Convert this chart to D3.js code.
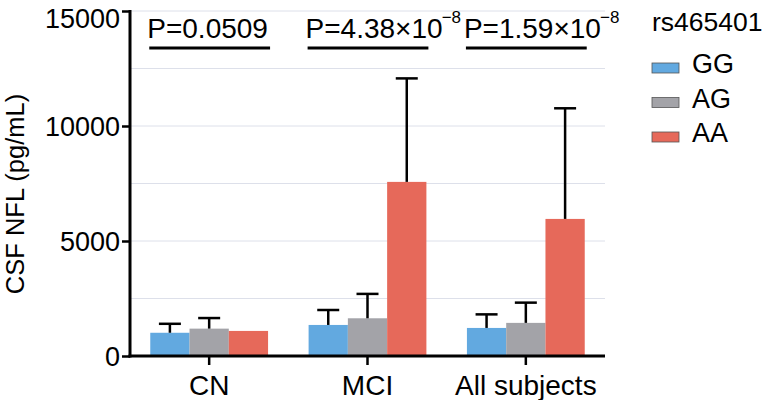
<!DOCTYPE html>
<html>
<head>
<meta charset="utf-8">
<script src="https://cdn.jsdelivr.net/npm/d3@7"></script>
<style>
  html, body { margin: 0; padding: 0; background: #fff; }
  svg { display: block; font-family: "Liberation Sans", Arial, Helvetica, sans-serif; }
</style>
</head>
<body>
<svg id="chart" width="768" height="400"></svg>
<script>
// ---- data ----
const groups = ["CN", "MCI", "All subjects"];
const genotypes = ["GG", "AG", "AA"];
const means = {
  GG: [1010, 1350, 1220],
  AG: [1190, 1640, 1440],
  AA: [1090, 7570, 5960]
};
const upper = {
  GG: [1400, 2000, 1810],
  AG: [1650, 2700, 2320],
  AA: [null, 12070, 10770]
};
const pValues = [
  { base: "P=0.0509", exp: null },
  { base: "P=4.38×10", exp: "−8" },
  { base: "P=1.59×10", exp: "−8" }
];
const yTicks = [0, 5000, 10000, 15000];
const gridValues = [2500, 5000, 7500, 10000, 12500, 15000];
const legendTitle = "rs465401";
const yLabel = "CSF NFL (pg/mL)";
const colors = { GG: "#62a9e0", AG: "#a3a3a8", AA: "#e6695a" };

// ---- layout ----
const svg = d3.select("#chart");
const x0 = 130, x1 = 605, yTop = 11, yBot = 356;

const y = d3.scaleLinear().domain([0, 15000]).range([yBot, yTop]);
const x = d3.scaleBand().domain(groups).range([x0, x1]).paddingInner(0.256).paddingOuter(0.128);
const xs = d3.scaleBand().domain(genotypes).range([0, x.bandwidth()]).padding(0);

// gridlines
svg.append("g").selectAll("line").data(gridValues).join("line")
  .attr("x1", x0).attr("x2", x1)
  .attr("y1", d => y(d)).attr("y2", d => y(d))
  .attr("stroke", "#dde0ea").attr("stroke-width", 1);

// bars
const rows = [];
groups.forEach((g, gi) => genotypes.forEach(s => rows.push({ g, s, v: means[s][gi], u: upper[s][gi] })));

svg.append("g").selectAll("rect").data(rows).join("rect")
  .attr("x", d => x(d.g) + xs(d.s))
  .attr("width", xs.bandwidth())
  .attr("y", d => y(d.v))
  .attr("height", d => y(0) - y(d.v))
  .attr("fill", d => colors[d.s]);

// error bars (upper only)
const eb = svg.append("g").attr("stroke", "#000").attr("stroke-width", 2.5);
rows.filter(d => d.u != null).forEach(d => {
  const cx = x(d.g) + xs(d.s) + xs.bandwidth() / 2;
  eb.append("line").attr("x1", cx).attr("x2", cx).attr("y1", y(d.v)).attr("y2", y(d.u));
  eb.append("line").attr("x1", cx - 11).attr("x2", cx + 11).attr("y1", y(d.u)).attr("y2", y(d.u));
});

// y axis
const yAxis = svg.append("g").attr("transform", `translate(${x0},0)`)
  .call(d3.axisLeft(y).tickValues(yTicks).tickFormat(d3.format("d")).tickSizeOuter(0).tickSize(8).tickPadding(2));
yAxis.select(".domain").attr("stroke", "#000").attr("stroke-width", 3).attr("d", `M0,${yTop - 1}V${yBot + 1.5}`);
yAxis.selectAll(".tick line").attr("stroke", "#000").attr("stroke-width", 2.5);
yAxis.selectAll(".tick text").attr("font-size", 27).attr("fill", "#000").attr("font-family", "Liberation Sans, Arial, sans-serif")
  .attr("dy", d => d === 15000 ? "0.62em" : "0.36em");

// x axis
const xAxis = svg.append("g").attr("transform", `translate(0,${yBot})`)
  .call(d3.axisBottom(x).tickSizeOuter(0).tickSize(9).tickPadding(10));
xAxis.select(".domain").attr("stroke", "#000").attr("stroke-width", 3).attr("d", `M${x0 - 1.5},0H${x1}`);
xAxis.selectAll(".tick line").attr("stroke", "#000").attr("stroke-width", 2.5);
xAxis.selectAll(".tick text").attr("font-size", 28).attr("fill", "#000").attr("font-family", "Liberation Sans, Arial, sans-serif");

// y label
svg.append("text")
  .attr("transform", `translate(24,194) rotate(-90)`)
  .attr("text-anchor", "middle")
  .attr("font-size", 25.5)
  .attr("fill", "#000")
  .text(yLabel);

// significance lines and P values
groups.forEach((g, i) => {
  const gx0 = x(g) - 1, gx1 = x(g) + x.bandwidth() + 2;
  svg.append("line").attr("x1", gx0).attr("x2", gx1).attr("y1", 48).attr("y2", 48)
    .attr("stroke", "#000").attr("stroke-width", 3);
  const t = svg.append("text").attr("x", gx0 - 2).attr("y", 38).attr("font-size", 28).attr("fill", "#000");
  t.append("tspan").text(pValues[i].base);
  if (pValues[i].exp) {
    t.append("tspan").attr("dy", -15).attr("dx", -1).attr("font-size", 17).text(pValues[i].exp);
  }
});

// legend
const lg = svg.append("g");
lg.append("text").attr("x", 652).attr("y", 31).attr("font-size", 26.5).attr("fill", "#000").text(legendTitle);
genotypes.forEach((s, i) => {
  const by = 73 + i * 34.5;
  lg.append("rect").attr("x", 652).attr("y", by - 10).attr("width", 27).attr("height", 10)
    .attr("fill", colors[s]).attr("stroke", "#555").attr("stroke-width", 0.8);
  lg.append("text").attr("x", 692).attr("y", by).attr("font-size", 27).attr("fill", "#000").text(s);
});
</script>
</body>
</html>
